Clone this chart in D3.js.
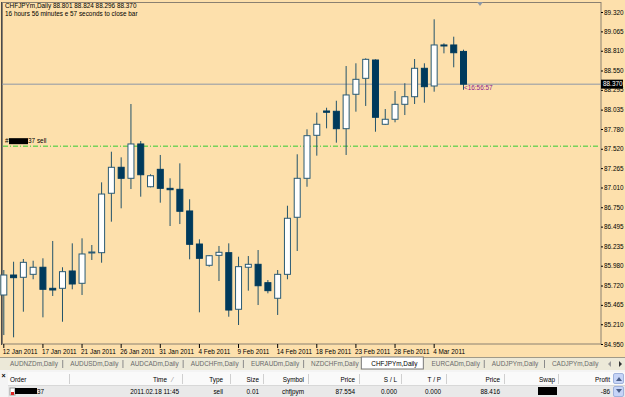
<!DOCTYPE html>
<html>
<head>
<meta charset="utf-8">
<script src="https://cdn.jsdelivr.net/npm/d3@7"></script>
<style>
  body { margin: 0; background: #fde0ac; overflow: hidden; }
  svg { display: block; font-family: "Liberation Sans", Arial, sans-serif; }
</style>
</head>
<body>
<svg id="chart" width="625" height="397"></svg>
<script>
const symbol = "CHFJPYm";
const dates = ["2011-01-12","2011-01-13","2011-01-14","2011-01-16","2011-01-17","2011-01-18","2011-01-19","2011-01-20","2011-01-21",
  "2011-01-23","2011-01-24","2011-01-25","2011-01-26","2011-01-27","2011-01-28","2011-01-30","2011-01-31",
  "2011-02-01","2011-02-02","2011-02-03","2011-02-04","2011-02-06","2011-02-07","2011-02-08","2011-02-09","2011-02-10","2011-02-11",
  "2011-02-13","2011-02-14","2011-02-15","2011-02-16","2011-02-17","2011-02-18","2011-02-20","2011-02-21","2011-02-22","2011-02-23",
  "2011-02-24","2011-02-25","2011-02-27","2011-02-28","2011-03-01","2011-03-02","2011-03-03","2011-03-04","2011-03-06","2011-03-07","2011-03-08"];
const opens = [85.595,85.858,85.828,85.867,85.960,85.683,85.683,85.911,85.749,86.152,86.152,86.934,87.276,87.131,87.583,87.020,
  87.249,86.999,86.986,86.701,86.266,85.986,86.117,86.152,85.407,85.960,85.999,85.757,85.552,85.867,86.618,87.131,
  87.697,88.017,88.013,87.784,88.237,88.447,88.688,87.842,87.908,88.105,88.205,88.579,88.346,88.886,88.886,88.801];
const highs = [85.924,86.033,86.069,86.046,86.078,86.306,85.960,86.275,86.341,86.253,87.078,87.481,87.407,88.109,87.622,87.184,
  87.438,87.131,87.328,86.855,86.328,86.121,86.240,86.275,86.099,86.108,86.187,85.792,85.924,86.770,87.447,87.776,
  87.995,88.060,88.152,88.609,88.645,88.710,88.697,88.043,88.280,88.382,88.701,88.645,89.224,88.908,88.995,88.824];
const lows = [85.068,85.038,85.375,85.802,85.301,85.582,85.243,85.670,85.595,86.056,86.020,86.560,86.736,86.990,86.889,87.012,
  86.810,86.503,86.529,86.065,85.367,85.968,85.779,85.309,85.200,85.652,85.463,85.617,85.332,85.802,86.174,87.020,
  87.429,87.789,87.600,87.438,88.008,88.083,87.744,87.833,87.868,87.964,88.109,88.126,88.271,88.776,88.592,88.296];
const closes = [85.858,85.823,86.025,85.960,85.670,85.661,85.902,85.740,86.135,86.161,86.924,87.276,87.131,87.583,87.178,87.165,
  86.999,86.981,86.697,86.262,86.078,86.112,86.157,85.397,85.968,85.999,85.717,85.652,85.867,86.605,87.131,87.692,
  87.842,88.000,87.784,88.228,88.434,88.697,87.934,87.908,88.105,88.205,88.579,88.337,88.886,88.882,88.784,88.370];

const priceTicks = [89.320,89.065,88.810,88.550,88.295,88.035,87.780,87.520,87.265,87.010,86.750,86.495,86.235,85.980,85.720,85.465,85.210,84.950];
const dateTicks = ["2011-01-12","2011-01-17","2011-01-21","2011-01-26","2011-01-31","2011-02-04","2011-02-09","2011-02-14","2011-02-18","2011-02-23","2011-02-28","2011-03-04"];

const orderPrice = 87.554;
const timeLeft = "16:56:57";
const tabs = ["AUDNZDm,Daily","AUDUSDm,Daily","AUDCADm,Daily","AUDCHFm,Daily","EURAUDm,Daily","NZDCHFm,Daily","CHFJPYm,Daily","EURCADm,Daily","AUDJPYm,Daily","CADJPYm,Daily"];
const columns = ["Order","Time","Type","Size","Symbol","Price","S / L","T / P","Price","Swap","Profit"];
const orderRow = ["37","2011.02.18 11:45","sell","0.01","chfjpym","87.554","0.000","0.000","88.416","","-86"];

const bars = dates.map((d, i) => ({ date: d, o: opens[i], h: highs[i], l: lows[i], c: closes[i] }));
const last = bars[bars.length - 1];
const fmt = d3.format(".3f");
const parse = d3.timeParse("%Y-%m-%d");
const dayFmt = d3.timeFormat("%-d %b %Y");

const svg = d3.select("#chart");
const fs = 6.4;

svg.append("rect").attr("width", 625).attr("height", 397).attr("fill", "#fde0ac");

const x = d3.scalePoint().domain(dates).range([3.3, 463]);
const y = d3.scaleLinear().domain([84.95, 89.32]).range([344, 12]);

// plot frame
svg.append("rect")
  .attr("x", 2.5).attr("y", 2.5).attr("width", 598.5).attr("height", 341.5)
  .attr("fill", "none").attr("stroke", "#8a8070");
svg.append("line").attr("x1", 1.5).attr("x2", 1.5).attr("y1", 2).attr("y2", 345)
  .attr("stroke", "#4a4a4a");

// right price axis
const yAxis = svg.append("g")
  .attr("transform", "translate(601,0)")
  .call(d3.axisRight(y).tickValues(priceTicks).tickSize(2).tickPadding(1).tickFormat(fmt));
yAxis.select(".domain").remove();
yAxis.selectAll("line").attr("stroke", "#000");
yAxis.selectAll("text").attr("font-size", fs).attr("font-family", "Liberation Sans, Arial, sans-serif").attr("fill", "#000");

// bottom date axis
const xAxis = svg.append("g")
  .attr("transform", "translate(0,344)")
  .call(d3.axisBottom(x).tickValues(dateTicks).tickSize(4).tickFormat(d => dayFmt(parse(d))));
xAxis.select(".domain").remove();
xAxis.selectAll("line").attr("stroke", "#000");
xAxis.selectAll("text")
  .attr("text-anchor", "start").attr("dx", -1).attr("y", 4).attr("dy", "0.95em")
  .attr("font-size", fs).attr("font-family", "Liberation Sans, Arial, sans-serif").attr("fill", "#000");

// current price line
svg.append("line")
  .attr("x1", 2).attr("x2", 601).attr("y1", y(last.c)).attr("y2", y(last.c))
  .attr("stroke", "#8d98a6");

// order line
svg.append("line")
  .attr("x1", 3).attr("x2", 600).attr("y1", y(orderPrice)).attr("y2", y(orderPrice))
  .attr("stroke", "#33cc33").attr("stroke-dasharray", "5,2,1,2");
const ol = svg.append("g").attr("transform", `translate(5,${y(orderPrice) - 3})`);
ol.append("text").attr("font-size", fs).attr("fill", "#000").text("#");
ol.append("rect").attr("x", 4).attr("y", -5).attr("width", 19).attr("height", 6).attr("fill", "#000");
ol.append("text").attr("x", 23).attr("font-size", fs).attr("fill", "#000").text("37 sell");

// candles
const candle = svg.append("g").selectAll("g")
  .data(bars)
  .join("g");

candle.append("line")
  .attr("x1", d => x(d.date) + 0.5).attr("x2", d => x(d.date) + 0.5)
  .attr("y1", d => y(d.h)).attr("y2", d => y(d.l))
  .attr("stroke", "#23536a");

candle.append("rect")
  .attr("x", d => x(d.date) - 2.5)
  .attr("width", 6)
  .attr("y", d => y(Math.max(d.o, d.c)))
  .attr("height", d => Math.max(1, y(Math.min(d.o, d.c)) - y(Math.max(d.o, d.c))))
  .attr("fill", d => d.c >= d.o ? "#ffffff" : "#003a5c")
  .attr("stroke", d => d.c >= d.o ? "#2a5a74" : "#003a5c")
  .attr("stroke-width", 1);

// price box on the axis
svg.append("rect")
  .attr("x", 601).attr("y", y(last.c) - 4.5).attr("width", 22).attr("height", 9).attr("fill", "#000");
svg.append("text")
  .attr("x", 603).attr("y", y(last.c)).attr("dy", "0.35em")
  .attr("font-size", fs).attr("fill", "#fff").text(fmt(last.c));

// time to close label
svg.append("text")
  .attr("x", x(last.date) + 1).attr("y", y(last.c) + 6)
  .attr("font-size", fs).attr("fill", "#8b1a8b").text("<" + timeLeft);

// chart shift marker
svg.append("path").attr("d", "M477,2 L483,2 L480,6 Z").attr("fill", "#8d98a6");

// header
svg.append("text").attr("x", 5).attr("y", 8).attr("font-size", fs).attr("fill", "#000")
  .text(`${symbol},Daily  ${fmt(last.o)} ${fmt(last.h)} ${fmt(last.l)} ${fmt(last.c)}`);
svg.append("text").attr("x", 5).attr("y", 16).attr("font-size", fs).attr("fill", "#000")
  .text("16 hours 56 minutes e 57 seconds to close bar");

// tab bar
const tabBar = svg.append("g");
tabBar.append("rect").attr("x", 0).attr("y", 357).attr("width", 625).attr("height", 13).attr("fill", "#ece9d8");
tabBar.append("line").attr("x1", 0).attr("x2", 625).attr("y1", 357.5).attr("y2", 357.5).attr("stroke", "#a09a88");
const tx = d3.scalePoint().domain(tabs).range([10, 552]);
tabs.forEach((t, i) => {
  const sel = t === `${symbol},Daily`;
  if (sel) {
    tabBar.append("rect").attr("x", tx(t) - 10).attr("y", 357).attr("width", 62).attr("height", 12)
      .attr("fill", "#fff").attr("stroke", "#7a7a7a");
  } else if (i > 0 && tabs[i - 1] !== `${symbol},Daily`) {
    tabBar.append("line").attr("x1", tx(t) - 7.5).attr("x2", tx(t) - 7.5).attr("y1", 360).attr("y2", 368).attr("stroke", "#8a8a8a");
  }
  tabBar.append("text").attr("x", tx(t)).attr("y", 366).attr("font-size", fs)
    .attr("fill", sel ? "#000" : "#6a6a6a").text(t);
});
tabBar.append("path").attr("d", "M611,361 L608,364 L611,367 Z").attr("fill", "#999");
tabBar.append("path").attr("d", "M619,361 L622,364 L619,367 Z").attr("fill", "#333");

// terminal
const term = svg.append("g");
term.append("rect").attr("x", 0).attr("y", 370).attr("width", 625).attr("height", 27).attr("fill", "#f4f4f4");
term.append("rect").attr("x", 8).attr("y", 372).attr("width", 617).attr("height", 13).attr("fill", "#fafafa");
term.append("line").attr("x1", 8).attr("x2", 625).attr("y1", 385.5).attr("y2", 385.5).attr("stroke", "#d8d8d8");
term.append("rect").attr("x", 8).attr("y", 386).attr("width", 617).attr("height", 11).attr("fill", "#e9e9e9");
term.append("text").attr("x", 1.5).attr("y", 378).attr("font-size", 7).attr("font-weight", "bold").attr("fill", "#000").text("×");

const colRight = [null, 179, 223, 259, 304, 355, 397, 441, 500, 555, null];
const colSep = [69, 182, 230, 263, 308, 359, 401, 446, 504, 558];
colSep.forEach(s => term.append("line").attr("x1", s + 0.5).attr("x2", s + 0.5).attr("y1", 374).attr("y2", 384).attr("stroke", "#d0d0d0"));
columns.forEach((c, i) => {
  const t = term.append("text").attr("y", 382).attr("font-size", fs).attr("fill", "#000").text(c);
  if (i === 0) t.attr("x", 10);
  else if (i === 10) t.attr("x", 595);
  else t.attr("x", i === 1 ? colRight[i] - 12 : colRight[i]).attr("text-anchor", "end");
});
term.append("text").attr("x", 172).attr("y", 382).attr("font-size", fs).attr("fill", "#888").text("⁄");

orderRow.forEach((v, i) => {
  if (i === 0) {
    term.append("rect").attr("x", 10).attr("y", 388).attr("width", 5).attr("height", 7).attr("fill", "#fff").attr("stroke", "#999");
    term.append("rect").attr("x", 11).attr("y", 392).attr("width", 3).attr("height", 3).attr("fill", "#d22");
    term.append("rect").attr("x", 15).attr("y", 388).attr("width", 22).attr("height", 6).attr("fill", "#000");
    term.append("text").attr("x", 37).attr("y", 394).attr("font-size", fs).attr("fill", "#000").text(v);
  } else if (i === 9) {
    term.append("rect").attr("x", 538).attr("y", 387).attr("width", 19).attr("height", 8).attr("fill", "#000");
  } else {
    term.append("text").attr("x", i === 10 ? 610 : colRight[i]).attr("y", 394).attr("text-anchor", "end")
      .attr("font-size", fs).attr("fill", "#000").text(v);
  }
});

// scroll buttons
[[373, "M616,381 L619,377 L622,381 Z"], [386, "M616,389 L619,393 L622,389 Z"]].forEach(([yy, p]) => {
  term.append("rect").attr("x", 613.5).attr("y", yy + 0.5).attr("width", 10).attr("height", 10)
    .attr("fill", "#c6d4f7").attr("stroke", "#9fb2dc").attr("rx", 1.5);
  term.append("path").attr("d", p).attr("fill", "#4a5f8a");
});
</script>
</body>
</html>
